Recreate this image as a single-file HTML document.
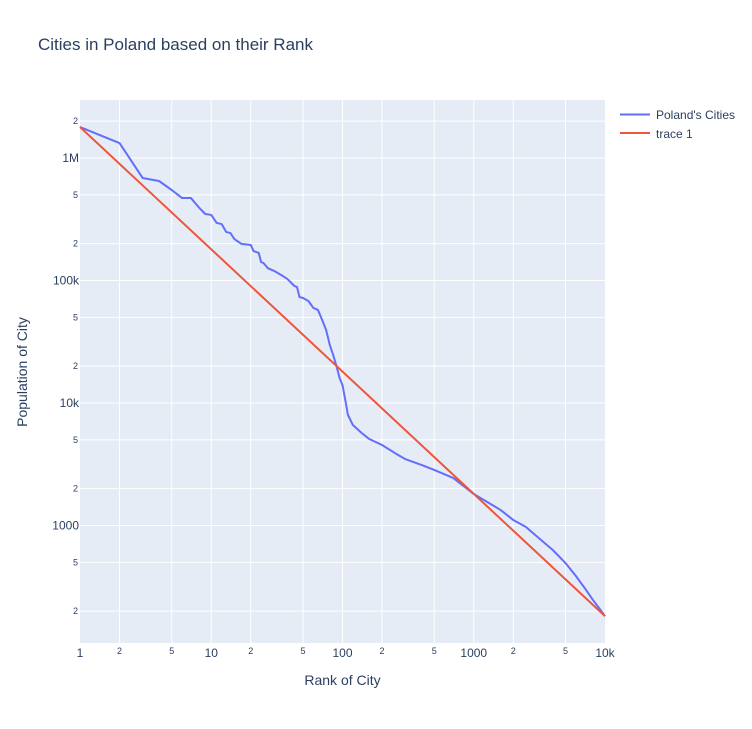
<!DOCTYPE html>
<html><head><meta charset="utf-8"><style>
body{margin:0;background:#fff;font-family:"Liberation Sans",Arial,sans-serif}
svg text{font-family:"Liberation Sans",Arial,sans-serif;fill:#2a3f5f}
</style></head><body>
<svg id="chart" width="752" height="724" xmlns="http://www.w3.org/2000/svg">
<rect width="752" height="724" fill="#fff"/>
<text x="38" y="50" font-size="17">Cities in Poland based on their Rank</text>
<rect x="80" y="100" width="525" height="543" fill="#e5ecf6"/>
<g id="grid"></g><g id="ticks"></g><g id="series"></g>
<text x="342.5" y="685" font-size="14" text-anchor="middle">Rank of City</text>
<text transform="translate(27,372) rotate(-90)" font-size="14" text-anchor="middle">Population of City</text>
<g>
<line x1="620" y1="114.5" x2="650" y2="114.5" stroke="#636efa" stroke-width="2"/>
<text x="656" y="119" font-size="12">Poland's Cities</text>
<line x1="620" y1="133" x2="650" y2="133" stroke="#ef553b" stroke-width="2"/>
<text x="656" y="138" font-size="12">trace 1</text>
</g>
</svg>
<script>
const ranks=[1,2,3,4,5,6,7,8,9,10,11,12,13,14,15,17,20,21,23,24,25,27,30,35,38,43,45,47,50,55,60,65,70,75,80,85,90,95,100,105,110,120,140,160,200,250,300,400,500,700,800,1000,1300,1600,2000,2500,3000,4000,5000,6000,7000,8000,9000,10000];
const populations=[1790000,1325000,687000,649000,548000,471000,471000,398000,349000,343000,295000,289000,249000,244000,218000,199000,195000,174000,168000,141000,139000,126000,120000,109000,103000,90200,88500,73300,72000,68000,59700,57500,47600,39500,29800,24600,20000,16000,14000,10600,7980,6610,5690,5080,4540,3910,3490,3120,2840,2440,2180,1810,1530,1340,1110,973,821,631,494,387,309,251,212,182];
const fitRanks=[1,10000];
const fitPopulations=[1790000,182];
const xTickLabels=["1","2","5","10","2","5","100","2","5","1000","2","5","10k"];
const xTickValues=[1,2,5,10,20,50,100,200,500,1000,2000,5000,10000];
const yTickLabels=["2","1M","5","2","100k","5","2","10k","5","2","1000","5","2"];
const yTickValues=[2e6,1e6,5e5,2e5,1e5,5e4,2e4,1e4,5e3,2e3,1e3,500,200];

const NS="http://www.w3.org/2000/svg";
const X=v=>80+Math.log10(v)*131.25;
const Y=v=>158-(Math.log10(v)-6)*122.5;
function mk(t,a,p){const e=document.createElementNS(NS,t);for(const k in a)e.setAttribute(k,a[k]);p.appendChild(e);return e;}
const grid=document.getElementById('grid'),ticks=document.getElementById('ticks'),series=document.getElementById('series');
xTickValues.forEach((v,i)=>{
  const x=X(v);
  if(x>80.5&&x<604.5){const l=mk('line',{x1:x,x2:x,y1:100,y2:643,stroke:'#fff','stroke-width':1},grid);
  
  }
  const major=!/^[25]$/.test(xTickLabels[i]);
  const t=mk('text',{x:x,y:major?657:654,'font-size':major?12:9,'text-anchor':'middle'},ticks);
  t.textContent=xTickLabels[i];
  
  
});
yTickValues.forEach((v,i)=>{
  const y=Y(v);
  const l=mk('line',{x1:80,x2:605,y1:y,y2:y,stroke:'#fff','stroke-width':1},grid);
  
  
  const major=!/^[25]$/.test(yTickLabels[i]);
  const t=mk('text',{x:major?79:78,y:y+(major?4:3),'font-size':major?12:9,'text-anchor':'end'},ticks);
  t.textContent=yTickLabels[i];
  
  
});
const p1=mk('polyline',{points:ranks.map((r,i)=>X(r)+','+Y(populations[i])).join(' '),fill:'none',stroke:'#636efa','stroke-width':2,'stroke-linejoin':'round'},series);


const p2=mk('polyline',{points:fitRanks.map((r,i)=>X(r)+','+Y(fitPopulations[i])).join(' '),fill:'none',stroke:'#ef553b','stroke-width':2},series);


</script>
</body></html>
